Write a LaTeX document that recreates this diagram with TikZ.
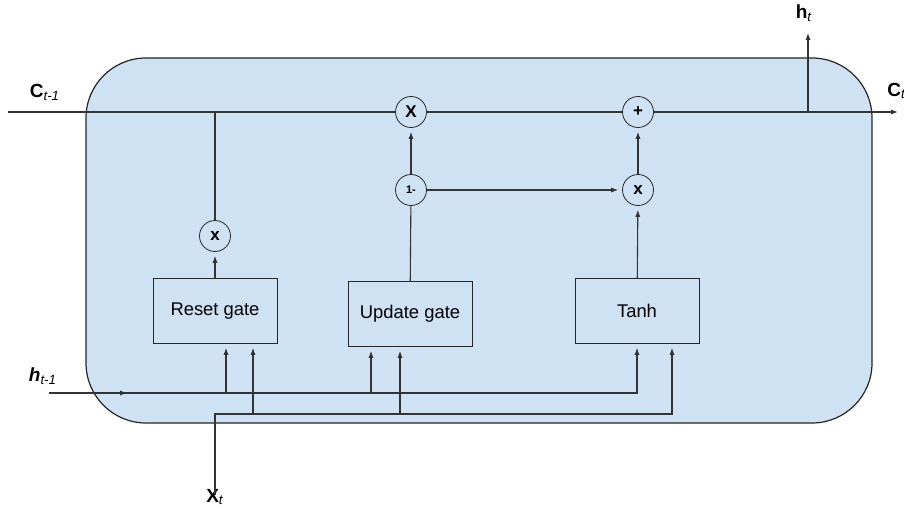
\documentclass[tikz,border=0pt]{standalone}
\usepackage{fontspec}
\setmainfont{Liberation Sans}
\usetikzlibrary{arrows.meta}

\definecolor{cellblue}{HTML}{CFE2F3}
\tikzset{
  gate/.style={draw=black!85, minimum width=62pt, minimum height=32.5pt, inner sep=0pt, font=\fontsize{9.2}{11}\selectfont},
  op/.style={circle, draw=black!85, minimum size=15.5pt, inner sep=0pt, font=\bfseries\fontsize{8.5}{9}\selectfont},
  flow/.style={draw=black!80, line width=0.55pt},
  tip/.style={-{Latex[length=3.5pt,width=2.6pt]}},
  into/.style={shorten >=2pt},
  lbl/.style={font=\bfseries\fontsize{9.5}{11}\selectfont, inner sep=0pt}
}

\begin{document}
\begin{tikzpicture}[x=0.5pt,y=-0.5pt]
\useasboundingbox (0,0) rectangle (904,508);

% GRU cell body
\draw[fill=cellblue, draw=black!85, line width=0.6pt, rounded corners=30pt] (86,58) rectangle (872,423);

% operators
\node[op] (mulc) at (411,112) {X};
\node[op] (one) at (411,190) {\fontsize{5.5}{6}\selectfont 1-};
\node[op] (add) at (638,112) {+};
\node[op] (mulh) at (638,190) {x};
\node[op] (mulr) at (215,236) {x};

% gates
\node[gate] (reset) at (215,311) {Reset gate};
\node[gate] (update) at (410,314) {Update gate};
\node[gate] (tanh) at (637,311) {Tanh};

% labels
\node[lbl] (cprev) at (45,92) {C\textsubscript{\mdseries\itshape t-1}};
\node[lbl, anchor=west] (cnext) at (887,91) {C\textsubscript{\mdseries\itshape t}};
\node[lbl] (hnext) at (804,13) {h\textsubscript{\mdseries\itshape t}};
\node[lbl] (hprev) at (43,376) {\itshape h\textsubscript{\mdseries t-1}};
\node[lbl] (xt) at (215,497) {X\textsubscript{\mdseries\itshape t}};

% free ends and taps
\coordinate (cin) at (8,112);
\coordinate (cout) at (898,112);
\coordinate (hout) at (808,33);
\coordinate (hin) at (49,393);
\coordinate (hmid) at (127,393);
\coordinate (xbus) at (215,414);
\coordinate (r1) at ([xshift=5.5pt]reset.south);
\coordinate (r2) at ([xshift=19pt]reset.south);
\coordinate (u1) at ([xshift=-19.5pt]update.south);
\coordinate (u2) at ([xshift=-5pt]update.south);
\coordinate (t1) at (tanh.south);
\coordinate (t2) at ([xshift=17.5pt]tanh.south);

% cell state line
\draw[flow] (cin) -- (mulc);
\draw[flow] (mulc) -- (add);
\draw[flow,tip] (add) -- (cout);
\draw[flow,tip] (hout |- cin) -- (hout);

% reset path
\draw[flow,tip,into] (reset) -- (mulr);
\draw[flow] (mulr) -- (mulr |- cin);

% update path
\draw[flow] (update) -- (one);
\draw[flow,tip,into] (one) -- (mulc);
\draw[flow,tip,into] (one) -- (mulh);

% candidate path
\draw[flow,tip,into] (tanh) -- (mulh);
\draw[flow,tip,into] (mulh) -- (add);

% h_{t-1} input
\draw[flow,tip,into] (hin) -| (t1);
\draw[flow,tip] (hin) -- (hmid);
\draw[flow,tip,into] (r1 |- hin) -- (r1);
\draw[flow,tip,into] (u1 |- hin) -- (u1);

% x_t input
\draw[flow,tip,into] ([yshift=-3pt]xt.north) -- (xbus) -| (t2);
\draw[flow,tip,into] (r2 |- xbus) -- (r2);
\draw[flow,tip,into] (u2 |- xbus) -- (u2);
\end{tikzpicture}
\end{document}
